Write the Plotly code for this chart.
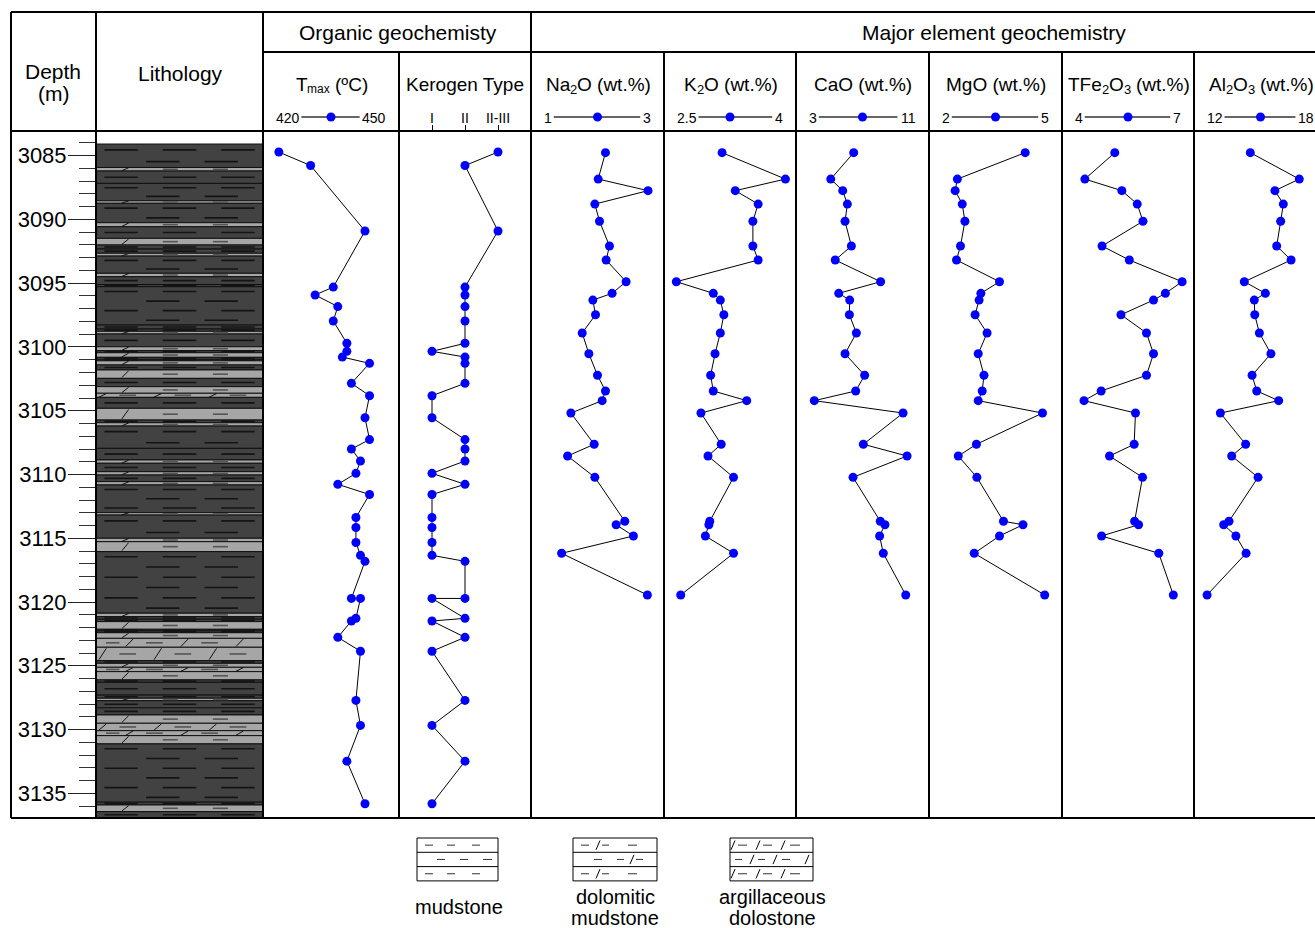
import plotly.graph_objects as go

W, H = 1315, 928
FONT = "Liberation Sans, Arial, sans-serif"


def fx(x):
    """pixel column -> paper x"""
    return x / W


def fy(y):
    """pixel row -> paper y"""
    return 1 - y / H


# ---------------------------------------------------------------- data
# organic geochemistry samples
org_depth = [3084.71, 3085.77, 3090.90, 3095.30, 3095.92, 3096.83, 3097.96, 3099.71,
             3100.34, 3100.79, 3101.28, 3102.85, 3103.82, 3105.55, 3107.26, 3108.00,
             3108.94, 3109.91, 3110.77, 3111.57, 3113.37, 3114.16, 3115.33, 3116.34,
             3116.81, 3119.72, 3119.72, 3121.28, 3121.49, 3122.77, 3123.86, 3127.72,
             3129.68, 3132.48, 3135.82]
tmax = [423, 430, 442, 435, 431, 436, 435, 438, 438, 437, 443, 439, 443, 442, 443, 439,
        441, 440, 436, 443, 440, 440, 440, 441, 442, 439, 441, 440, 439, 436, 441, 440,
        441, 438, 442]
kerogen = ["II-III", "II", "II-III", "II", "II", "II", "II", "II", "I", "II",
           "II", "II", "I", "I", "II", "II", "II", "I", "II", "I",
           "I", "I", "I", "I", "II", "II", "I", "II", "I", "II",
           "I", "II", "I", "II", "I"]
kerogen_types = ["I", "II", "II-III"]

# major element samples
major_depth = [3084.76, 3086.83, 3087.74, 3088.79, 3090.14, 3092.08, 3093.18, 3094.88,
               3095.79, 3096.32, 3097.47, 3098.90, 3100.53, 3102.22, 3103.45, 3104.21,
               3105.18, 3107.63, 3108.55, 3110.22, 3113.67, 3113.94, 3114.82, 3116.18,
               3119.45]
na2o = [2.12, 2.01, 2.76, 1.96, 2.03, 2.18, 2.13, 2.43, 2.22, 1.93, 1.97, 1.77, 1.87,
        2.00, 2.12, 2.07, 1.60, 1.95, 1.55, 1.96, 2.41, 2.28, 2.54, 1.46, 2.75]
k2o = [3.16, 3.88, 3.31, 3.57, 3.51, 3.51, 3.57, 2.64, 3.06, 3.14, 3.18, 3.14, 3.08,
       3.03, 3.06, 3.44, 2.92, 3.15, 3.00, 3.29, 3.02, 3.01, 2.97, 3.29, 2.69]
cao = [6.47, 5.09, 5.81, 6.09, 5.95, 6.33, 5.36, 8.09, 5.57, 6.23, 6.21, 6.63, 5.95,
       7.13, 6.59, 4.10, 9.44, 7.05, 9.68, 6.43, 8.07, 8.35, 8.03, 8.25, 9.60]
mgo = [4.17, 2.64, 2.59, 2.75, 2.81, 2.71, 2.62, 3.59, 3.17, 3.13, 3.04, 3.31, 3.11,
       3.24, 3.20, 3.11, 4.56, 3.07, 2.66, 3.08, 3.68, 4.12, 3.59, 3.02, 4.61]
tfe2o3 = [5.20, 4.52, 5.36, 5.71, 5.84, 4.91, 5.53, 6.73, 6.35, 6.08, 5.34, 5.92, 6.08,
          5.92, 4.89, 4.50, 5.67, 5.64, 5.08, 5.83, 5.65, 5.74, 4.90, 6.20, 6.53]
al2o3 = [14.54, 16.75, 15.65, 16.03, 15.91, 15.73, 16.38, 14.27, 15.22, 14.72, 14.74,
         14.95, 15.47, 14.62, 14.83, 15.82, 13.19, 14.33, 13.70, 14.89, 13.58, 13.34,
         13.89, 14.35, 12.59]

# lithology: interbeds within the mudstone (top, base, kind)
# D = dolomitic mudstone, A = argillaceous dolostone
litho_top, litho_base = 3084.08, 3136.94
beds = [
    (3085.92, 3086.20, "D"), (3088.53, 3088.73, "D"), (3090.25, 3090.57, "D"),
    (3091.48, 3092.00, "D"), (3092.65, 3092.87, "D"), (3094.22, 3094.49, "D"),
    (3098.77, 3098.98, "D"), (3099.98, 3100.29, "D"), (3100.45, 3100.81, "D"),
    (3101.08, 3101.41, "D"), (3101.80, 3102.46, "D"), (3103.11, 3103.63, "D"),
    (3103.63, 3103.95, "A"), (3104.81, 3105.73, "D"), (3105.94, 3106.20, "D"),
    (3108.86, 3109.12, "D"), (3109.78, 3110.04, "D"), (3110.56, 3110.82, "D"),
    (3112.99, 3113.18, "D"), (3115.00, 3115.27, "D"), (3115.27, 3116.05, "D"),
    (3120.88, 3121.15, "D"), (3121.54, 3122.14, "D"), (3122.41, 3122.85, "D"),
    (3122.85, 3123.55, "A"), (3123.55, 3124.60, "A"), (3124.81, 3125.12, "D"),
    (3125.12, 3125.46, "A"), (3125.46, 3126.11, "D"), (3127.55, 3127.74, "D"),
    (3128.86, 3129.51, "D"), (3129.51, 3130.09, "A"), (3130.09, 3130.48, "A"),
    (3130.48, 3131.13, "D"), (3135.92, 3136.44, "D"),
]
bedding_planes = [3087.17, 3092.32, 3095.10, 3095.27, 3098.28, 3098.59, 3100.97,
                  3107.95, 3121.35, 3122.27, 3126.30, 3127.30, 3128.30, 3135.70]

# ---------------------------------------------------------------- geometry
PLOT_TOP, PLOT_BOT = 131, 818
DEPTH_RANGE = [3136.94, 3083.06]
Y_DOMAIN = [fy(PLOT_BOT), fy(PLOT_TOP)]

# column titles are split into (text, is_subscript) runs
columns = [
    dict(ax="x2", left=263, right=399, title=[("T", 0), ("max", 1), (" (ºC)", 0)],
         lo="420", hi="450", rng=[419.5, 449.5], x=tmax, y=org_depth),
    dict(ax="x3", left=399, right=531, title=[("Kerogen Type", 0)], lo=None, hi=None,
         rng=[0, 4], x=[kerogen_types.index(k) + 1 for k in kerogen], y=org_depth),
    dict(ax="x4", left=531, right=664, title=[("Na", 0), ("2", 1), ("O (wt.%)", 0)],
         lo="1", hi="3", rng=[1, 3], x=na2o, y=major_depth),
    dict(ax="x5", left=664, right=796, title=[("K", 0), ("2", 1), ("O (wt.%)", 0)],
         lo="2.5", hi="4", rng=[2.5, 4], x=k2o, y=major_depth),
    dict(ax="x6", left=796, right=929, title=[("CaO (wt.%)", 0)],
         lo="3", hi="11", rng=[3, 11], x=cao, y=major_depth),
    dict(ax="x7", left=929, right=1062, title=[("MgO (wt.%)", 0)],
         lo="2", hi="5", rng=[2, 5], x=mgo, y=major_depth),
    dict(ax="x8", left=1062, right=1194,
         title=[("TFe", 0), ("2", 1), ("O", 0), ("3", 1), (" (wt.%)", 0)],
         lo="4", hi="7", rng=[4, 7], x=tfe2o3, y=major_depth),
    dict(ax="x9", left=1194, right=1327,
         title=[("Al", 0), ("2", 1), ("O", 0), ("3", 1), (" (wt.%)", 0)],
         lo="12", hi="18", rng=[12, 18], x=al2o3, y=major_depth),
]

# Arial / Liberation Sans advance widths (per 1000 em)
ARIAL_W = {" ": 278, "(": 333, ")": 333, "%": 889, ".": 278, "º": 365,
           "A": 667, "C": 722, "F": 611, "K": 667, "M": 833, "N": 722, "O": 778,
           "T": 611, "a": 556, "e": 556, "g": 556, "l": 222, "m": 833, "n": 556,
           "o": 556, "p": 556, "r": 333, "t": 278, "w": 722, "x": 500, "y": 500}


def text_width(s, size):
    return sum(ARIAL_W.get(ch, 556) for ch in s) * size / 1000


fig = go.Figure()
shapes = []
annotations = []


def text(x, y, s, size, anchor="center", family=FONT):
    annotations.append(dict(x=fx(x), y=fy(y), xref="paper", yref="paper", text=s,
                            showarrow=False, xanchor=anchor, yanchor="middle",
                            borderpad=0, font=dict(family=family, size=size, color="black")))


def rich_text(cx, y, runs, size, sub_size):
    """lay out a title made of normal and subscript runs, centred on cx"""
    widths = [text_width(t, sub_size if s else size) for t, s in runs]
    x = cx - sum(widths) / 2
    for (t, s), w in zip(runs, widths):
        lead = len(t) - len(t.lstrip(" "))
        body = t.strip(" ")
        x_body = x + text_width(" " * lead, sub_size if s else size)
        text(x_body, y + (5 if s else 0), body, sub_size if s else size, anchor="left")
        x += w


def pline(x0, y0, x1, y1, width=2, color="black"):
    shapes.append(dict(type="line", xref="paper", yref="paper", x0=fx(x0), y0=fy(y0),
                       x1=fx(x1), y1=fy(y1), line=dict(color=color, width=width),
                       layer="above"))


# ---------------------------------------------------------------- lithology column
LITHO_COLOR = {"M": "#424242", "D": "#a6a6a6", "A": "#a6a6a6"}
bounds = sorted(set([litho_top, litho_base] + [b[0] for b in beds] +
                    [b[1] for b in beds] + bedding_planes))
segments = []
for a, b in zip(bounds[:-1], bounds[1:]):
    mid = (a + b) / 2
    kind = "M"
    for t, bs, k in beds:
        if t <= mid <= bs:
            kind = k
    segments.append((a, b, kind))

mud_x, mud_y = [], []
dol_x, dol_y = [], []
sl_x, sl_y = [], []
rowA = [(0.05, 0.25), (0.40, 0.60), (0.75, 0.95)]
rowB = [(0.30, 0.50), (0.65, 0.85)]
a_count = 0
for top, base, kind in segments:
    shapes.append(dict(type="rect", xref="x", yref="y", x0=0, x1=1, y0=top, y1=base,
                       fillcolor=LITHO_COLOR[kind], line=dict(color="#111111", width=1),
                       layer="below"))
    h = base - top
    if kind == "M":
        n = max(1, int(round(h / 0.82)))
        for i in range(n):
            yy = top + (i + 0.5) * h / n
            for x0, x1 in (rowA if i % 2 == 0 else rowB):
                mud_x += [x0, x1, None]
                mud_y += [yy, yy, None]
    elif kind == "D":
        yy = (top + base) / 2
        for x0, x1 in [(0.40, 0.49), (0.70, 0.79)]:
            dol_x += [x0, x1, None]
            dol_y += [yy, yy, None]
        m = h * 0.1
        sl_x += [0.155, 0.195, None]
        sl_y += [base - m, top + m, None]
    else:
        yy = (top + base) / 2
        m = h * 0.08
        if a_count % 2 == 0:
            slashes, dashes = [0.04, 0.37, 0.70], [(0.14, 0.24), (0.47, 0.57), (0.80, 0.90)]
        else:
            slashes, dashes = [0.20, 0.53, 0.86], [(0.06, 0.14), (0.30, 0.40), (0.63, 0.73)]
        a_count += 1
        for s in slashes:
            sl_x += [s - 0.022, s + 0.022, None]
            sl_y += [base - m, top + m, None]
        for x0, x1 in dashes:
            dol_x += [x0, x1, None]
            dol_y += [yy, yy, None]

for xs, ys, col, wd in [(mud_x, mud_y, "#141414", 1.6), (dol_x, dol_y, "#555555", 1.6),
                        (sl_x, sl_y, "#111111", 1.0)]:
    fig.add_trace(go.Scatter(x=xs, y=ys, xaxis="x", yaxis="y", mode="lines",
                             line=dict(color=col, width=wd), hoverinfo="skip",
                             showlegend=False))

# ---------------------------------------------------------------- data columns
for c in columns:
    fig.add_trace(go.Scatter(x=c["x"], y=c["y"], xaxis=c["ax"], yaxis="y",
                             mode="lines+markers", cliponaxis=False,
                             line=dict(color="black", width=1),
                             marker=dict(color="#0000ff", size=9, line=dict(width=0)),
                             hoverinfo="skip", showlegend=False))

layout_axes = {}
layout_axes["xaxis"] = dict(domain=[fx(96), fx(263)], range=[0, 1], visible=False,
                            anchor="y", fixedrange=True)
for c in columns:
    name = "xaxis" + c["ax"][1:]
    right = min(c["right"], W)
    lo, hi = c["rng"]
    hi_vis = lo + (hi - lo) * (right - c["left"]) / (c["right"] - c["left"])
    ax = dict(domain=[fx(c["left"]), fx(right)], range=[lo, hi_vis], anchor="y",
              showgrid=False, zeroline=False, showline=False, fixedrange=True)
    if c["ax"] == "x3":
        ax.update(side="top", tickmode="array", tickvals=[1, 2, 3],
                  ticktext=kerogen_types, ticks="outside", ticklen=5, tickwidth=1,
                  tickcolor="black", ticklabelstandoff=-4,
                  tickfont=dict(family=FONT, size=14, color="#000000"))
    else:
        ax.update(visible=False)
    layout_axes[name] = ax

# ---------------------------------------------------------------- header
text(53.5, 72, "Depth", 21)
text(53.5, 94, "(m)", 21)
text(180, 73, "Lithology", 21)
text(398, 33, "Organic geochemisty", 21)
text(994, 33, "Major element geochemistry", 21)
for c in columns:
    cx = (c["left"] + c["right"]) / 2
    sub_size = 12 if c["ax"] == "x2" else 13
    rich_text(cx, 84, c["title"], 19, sub_size)
    if c["lo"] is None:
        continue
    sz = 14
    lx = c["left"] + 12
    rx = c["right"] - 12
    text(lx, 118, c["lo"], sz, anchor="left")
    text(rx, 118, c["hi"], sz, anchor="right")
    x0 = lx + text_width(c["lo"], sz) + 3
    x1 = rx - text_width(c["hi"], sz) - 4
    pline(x0, 117, x1, 117, width=1.4, color="#333333")
    shapes.append(dict(type="circle", xref="paper", yref="paper",
                       x0=fx(cx - 4.5), x1=fx(cx + 4.5), y0=fy(117 + 4.5), y1=fy(117 - 4.5),
                       fillcolor="#0000ff", line=dict(width=0), layer="above"))

# ---------------------------------------------------------------- frame
pline(11, 12, W, 12)
pline(263, 52, W, 52)
pline(11, PLOT_TOP, W, PLOT_TOP)
pline(11, PLOT_BOT, W, PLOT_BOT)
for x in [11, 96, 263, 531]:
    pline(x, 12, x, PLOT_BOT)
for x in [399, 664, 796, 929, 1062, 1194]:
    pline(x, 52, x, PLOT_BOT)

# ---------------------------------------------------------------- lithology key
def swatch(x0, x1, y0, rows):
    rh = 14.3
    shapes.append(dict(type="rect", xref="paper", yref="paper", x0=fx(x0), x1=fx(x1),
                       y0=fy(y0 + 3 * rh), y1=fy(y0), fillcolor="white",
                       line=dict(color="black", width=1), layer="above"))
    for i in range(1, 3):
        pline(x0, y0 + i * rh, x1, y0 + i * rh, width=1)
    for i, (dashes, slashes) in enumerate(rows):
        yt, yb = y0 + i * rh, y0 + (i + 1) * rh
        ym = (yt + yb) / 2
        for a, b in dashes:
            pline(a, ym, b, ym, width=1, color="#333333")
        for s in slashes:
            pline(s - 2, yb - 2.5, s + 2, yt + 2.5, width=1, color="black")


mud_rows = [([(425, 433), (447, 455), (472, 480)], []),
            ([(437, 445), (460, 468), (483, 492)], []),
            ([(425, 433), (447, 455), (472, 480)], [])]
swatch(417, 498, 838, mud_rows)
dol_rows = [([(581, 589), (602, 609), (628, 637)], [598]),
            ([(594, 602), (617, 624), (636, 643)], [632]),
            ([(581, 589), (602, 609), (628, 637)], [598])]
swatch(573, 657, 838, dol_rows)
arg_rows = [([(738, 747), (763, 772), (790, 800)], [733, 758, 783]),
            ([(735, 742), (758, 765), (782, 790)], [752, 775, 807]),
            ([(738, 747), (763, 772), (790, 800)], [733, 758, 783])]
swatch(730, 813, 838, arg_rows)

text(459, 907, "mudstone", 20)
text(615, 897, "dolomitic", 20)
text(615, 918, "mudstone", 20)
text(772, 897, "argillaceous", 20)
text(772, 918, "dolostone", 20)

# ---------------------------------------------------------------- layout
fig.update_layout(
    width=W, height=H, autosize=False,
    margin=dict(l=0, r=0, t=0, b=0),
    paper_bgcolor="white", plot_bgcolor="white",
    showlegend=False,
    font=dict(family=FONT, size=19, color="black"),
    yaxis=dict(domain=Y_DOMAIN, range=DEPTH_RANGE, autorange=False, anchor="free",
               position=fx(96), side="left", showgrid=False, zeroline=False,
               showline=False, ticks="outside", ticklen=28, tickwidth=1,
               tickcolor="#222222", tick0=3085, dtick=5, ticklabelstandoff=-3,
               tickfont=dict(family=FONT, size=22, color="black"),
               minor=dict(ticks="outside", dtick=1, tick0=3085, ticklen=17,
                          tickwidth=1, tickcolor="#333333"),
               fixedrange=True),
    shapes=shapes,
    annotations=annotations,
    **layout_axes,
)

fig.write_html("out.html")
